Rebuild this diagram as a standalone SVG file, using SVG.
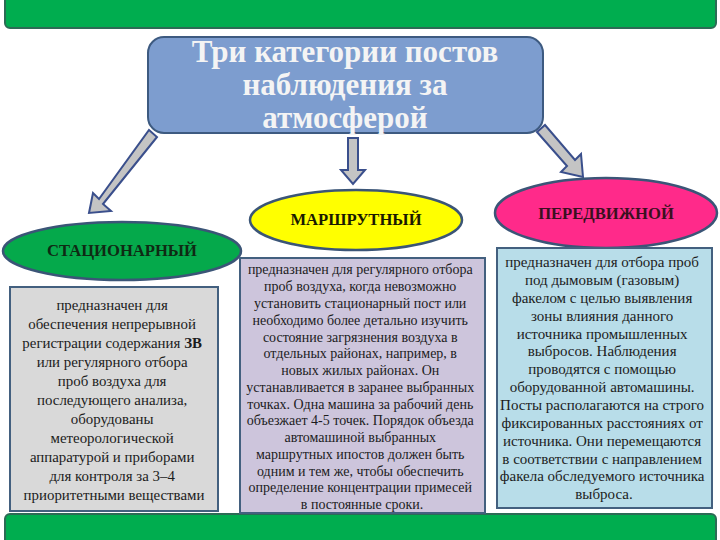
<svg xmlns="http://www.w3.org/2000/svg" width="720" height="540" viewBox="0 0 720 540">
<style>
.bar{fill:#00ad4f;stroke:#2c6b55;stroke-width:2}
.arrow{fill:#c4c4c4;stroke:#3a4f8c;stroke-width:2;stroke-linejoin:miter}
.ell{stroke:#3b5577;stroke-width:2.5}
.lbl{font-weight:bold;font-size:16.6px;text-anchor:middle}
.body{fill:#1c1c1c;text-anchor:middle}
.box{stroke:#43607f;stroke-width:2}
.title{font-weight:bold;font-size:31px;fill:#f4f4f4;text-anchor:middle}
</style>
<rect width="720" height="540" fill="#ffffff"/>
<rect class="bar" x="5" y="-6" width="711" height="34" rx="5"/>
<rect class="bar" x="5" y="514" width="711" height="32" rx="5"/>

<g id="title" font-family="Liberation Serif, DejaVu Serif, serif">
<rect x="148" y="37" width="395" height="96" rx="16" fill="#7d9dcf" stroke="#3d5a80" stroke-width="2"/>
<text class="title" x="345" y="62">Три категории постов</text>
<text class="title" x="345" y="95">наблюдения за</text>
<text class="title" x="345" y="128">атмосферой</text>
</g>

<g id="connectors">
<polygon class="arrow" points="149,130 157,137 103,204 111,211 89,213 93,193 99,199"/>
<polygon class="arrow" points="348,138 358,138 358,170 365,170 353,184 341,170 348,170"/>
<polygon class="arrow" points="537,132 545,125 575,160 581,154 583,177 561,172 567,166"/>
</g>

<g id="stationary" font-family="Liberation Serif, DejaVu Serif, serif">
<ellipse class="ell" cx="122" cy="251" rx="119" ry="29" fill="#05a94b"/>
<text class="lbl" x="122" y="256" fill="#0f2a14">СТАЦИОНАРНЫЙ</text>
<rect class="box" x="10" y="287" width="208" height="224" fill="#d9d9d9"/>
<text class="body" font-size="14.9">
<tspan x="114" y="310">предназначен для</tspan>
<tspan x="114" y="329">обеспечения непрерывной</tspan>
<tspan x="114" y="348">регистрации содержания <tspan font-weight="bold">ЗВ</tspan></tspan>
<tspan x="114" y="367">или регулярного отбора</tspan>
<tspan x="114" y="386">проб воздуха для</tspan>
<tspan x="114" y="405">последующего анализа,</tspan>
<tspan x="114" y="424">оборудованы</tspan>
<tspan x="114" y="443">метеорологической</tspan>
<tspan x="114" y="462">аппаратурой и приборами</tspan>
<tspan x="114" y="481">для контроля за 3–4</tspan>
<tspan x="114" y="500">приоритетными веществами</tspan>
</text>
</g>

<g id="route" font-family="Liberation Serif, DejaVu Serif, serif">
<ellipse class="ell" cx="356" cy="220" rx="106" ry="30" fill="#ffff00"/>
<text class="lbl" x="356" y="225" fill="#1a1a00">МАРШРУТНЫЙ</text>
<rect class="box" x="240" y="258" width="245" height="255" fill="#cdc5dc"/>
<text class="body" font-size="14">
<tspan x="362" y="274">предназначен для регулярного отбора</tspan>
<tspan x="362" y="291">проб воздуха, когда невозможно</tspan>
<tspan x="362" y="308">установить стационарный пост или</tspan>
<tspan x="362" y="325">необходимо более детально изучить</tspan>
<tspan x="362" y="342">состояние загрязнения воздуха в</tspan>
<tspan x="362" y="358">отдельных районах, например, в</tspan>
<tspan x="362" y="375">новых жилых районах. Он</tspan>
<tspan x="362" y="392">устанавливается в заранее выбранных</tspan>
<tspan x="362" y="409">точках. Одна машина за рабочий день</tspan>
<tspan x="362" y="425">объезжает 4-5 точек. Порядок объезда</tspan>
<tspan x="362" y="442">автомашиной выбранных</tspan>
<tspan x="362" y="459">маршрутных ипостов должен быть</tspan>
<tspan x="362" y="476">одним и тем же, чтобы обеспечить</tspan>
<tspan x="362" y="492">определение концентрации примесей</tspan>
<tspan x="362" y="509">в постоянные сроки.</tspan>
</text>
</g>

<g id="mobile" font-family="Liberation Serif, DejaVu Serif, serif">
<ellipse class="ell" cx="606" cy="213" rx="111" ry="35" fill="#ff2a8a"/>
<text class="lbl" x="606" y="219" fill="#3a1020">ПЕРЕДВИЖНОЙ</text>
<rect class="box" x="497" y="248" width="215" height="260" fill="#b8dde9"/>
<text class="body" font-size="15">
<tspan x="604" y="267">предназначен для отбора проб</tspan>
<tspan x="604" y="285">под дымовым (газовым)</tspan>
<tspan x="604" y="303">факелом с целью выявления</tspan>
<tspan x="604" y="321">зоны влияния данного</tspan>
<tspan x="604" y="339">источника промышленных</tspan>
<tspan x="604" y="356">выбросов. Наблюдения</tspan>
<tspan x="604" y="374">проводятся с помощью</tspan>
<tspan x="604" y="392">оборудованной автомашины.</tspan>
<tspan x="604" y="410">Посты располагаются на строго</tspan>
<tspan x="604" y="428">фиксированных расстояниях от</tspan>
<tspan x="604" y="446">источника. Они перемещаются</tspan>
<tspan x="604" y="464">в соответствии с направлением</tspan>
<tspan x="604" y="481">факела обследуемого источника</tspan>
<tspan x="604" y="499">выброса.</tspan>
</text>
</g>
</svg>
